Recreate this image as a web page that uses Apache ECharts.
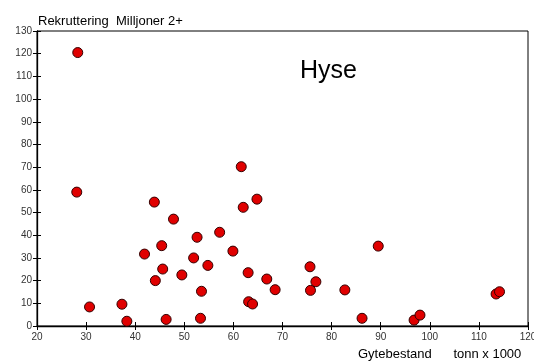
<!DOCTYPE html>
<html>
<head>
<meta charset="utf-8">
<script src="https://cdn.jsdelivr.net/npm/echarts@6/dist/echarts.min.js"></script>
<style>
  html, body { margin: 0; padding: 0; background: #fff; }
  #chart { width: 534px; height: 362px; }
</style>
</head>
<body>
<div id="chart"></div>
<script>
// Gytebestand (tonn x 1000) og rekruttering (millioner 2+)
var gytebestand = [28.3, 28.1, 30.7, 37.3, 38.3, 41.9, 43.9, 44.1, 45.4, 45.6,
  46.3, 47.8, 49.5, 51.9, 52.6, 53.3, 53.5, 54.8, 57.2, 59.9,
  61.6, 62.0, 63.0, 63.1, 63.9, 64.8, 66.8, 68.5, 75.6, 75.7,
  76.8, 82.7, 86.2, 89.5, 96.8, 98.0, 113.5, 114.2];
var rekruttering = [120.5, 59.0, 8.4, 9.6, 2.1, 31.7, 54.6, 20.0, 35.4, 25.1,
  2.9, 47.1, 22.5, 30.0, 39.1, 3.4, 15.3, 26.7, 41.3, 33.0,
  70.2, 52.3, 23.5, 10.7, 9.7, 55.9, 20.7, 16.0, 26.1, 15.7,
  19.5, 15.9, 3.4, 35.2, 2.6, 4.8, 14.1, 15.1];

var xMin = 20, xMax = 120, xStep = 10;
var yMin = 0, yMax = 130, yStep = 10;

var punkter = gytebestand.map(function (x, i) {
  return [x, rekruttering[i]];
});

var chart = echarts.init(document.getElementById("chart"));

var font = "Liberation Sans, Arial, sans-serif";

function xAkse(inside, labels) {
  return {
    type: "value", min: xMin, max: xMax, interval: xStep, position: "bottom",
    axisLine: { show: labels, onZero: false, lineStyle: { color: "#000", width: 1.3 } },
    axisTick: { show: true, inside: inside, length: 4, lineStyle: { color: "#000" } },
    axisLabel: { show: labels, margin: 6, color: "#333", fontFamily: font, fontSize: 10 },
    splitLine: { show: false }
  };
}
function yAkse(inside, labels) {
  return {
    type: "value", min: yMin, max: yMax, interval: yStep, position: "left",
    axisLine: { show: labels, onZero: false, lineStyle: { color: "#000", width: 1.3 } },
    axisTick: { show: true, inside: inside, length: 4, lineStyle: { color: "#000" } },
    axisLabel: { show: labels, margin: 5, color: "#333", fontFamily: font, fontSize: 10 },
    splitLine: { show: false }
  };
}

chart.setOption({
  backgroundColor: "#fff",
  animation: false,
  grid: {
    left: 37, top: 31, right: 6, bottom: 36,
    outerBoundsMode: "none",
    show: true, borderColor: "#000", borderWidth: 1, backgroundColor: "transparent"
  },
  title: [
    {
      text: "Rekruttering  Milljoner 2+", left: 38, top: 15, padding: 0,
      textStyle: { fontSize: 13, fontWeight: "normal", color: "#000", fontFamily: font }
    },
    {
      text: "Hyse", left: 300, top: 59, padding: 0,
      textStyle: { fontSize: 25, fontWeight: "normal", color: "#000", fontFamily: font }
    },
    {
      text: "Gytebestand      tonn x 1000", left: 358, top: 348, padding: 0,
      textStyle: { fontSize: 13, fontWeight: "normal", color: "#000", fontFamily: font }
    }
  ],
  xAxis: [xAkse(false, true), xAkse(true, false)],
  yAxis: [yAkse(false, true), yAkse(true, false)],
  series: [{
    type: "scatter",
    data: punkter,
    symbolSize: 10,
    itemStyle: { color: "#e00000", borderColor: "#300", borderWidth: 1, opacity: 1 }
  }]
});
</script>
</body>
</html>
